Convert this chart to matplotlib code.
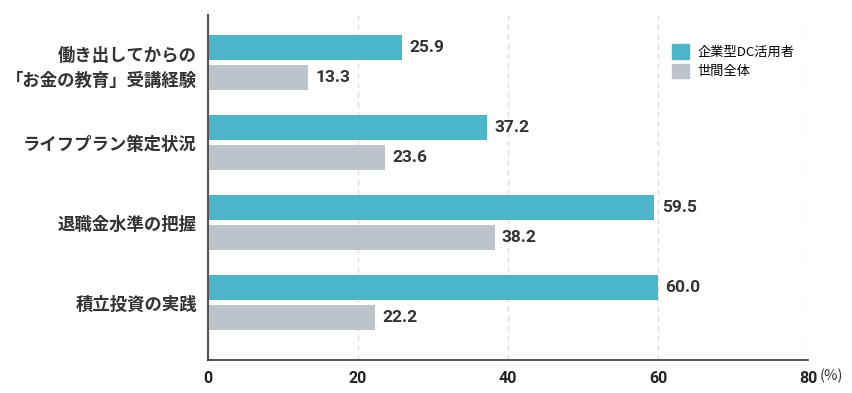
import matplotlib
matplotlib.use('Agg')
import matplotlib.pyplot as plt
from matplotlib.patches import Patch

plt.rcParams['font.family'] = ['Noto Sans CJK JP', 'DejaVu Sans']

# data
categories = ['働き出してからの\n「お金の教育」受講経験', 'ライフプラン策定状況', '退職金水準の把握', '積立投資の実践']
dc_users = [25.9, 37.2, 59.5, 60.0]
general = [13.3, 23.6, 38.2, 22.2]
series_names = ['企業型DC活用者', '世間全体']
xticks = [0, 20, 40, 60, 80]

teal = '#4cb5c9'
gray = '#bcc3cb'

fig = plt.figure(figsize=(8.52, 3.93), dpi=100)
ax = fig.add_axes([208 / 852, 33 / 393, 600 / 852, 345 / 393])

pos = list(range(len(categories)))
h = 0.3125
off = 0.1875
ax.barh([p - off for p in pos], dc_users, height=h, color=teal)
ax.barh([p + off for p in pos], general, height=h, color=gray)

for p, v in zip(pos, dc_users):
    ax.text(v + 1.0, p - off, f'{v:.1f}', va='center', ha='left', fontsize=12.5,
            color='#333333', fontweight='bold', family=['Roboto', 'DejaVu Sans'])
for p, v in zip(pos, general):
    ax.text(v + 1.0, p + off, f'{v:.1f}', va='center', ha='left', fontsize=12.5,
            color='#333333', fontweight='bold', family=['Roboto', 'DejaVu Sans'])

ax.set_xlim(0, 80)
ax.set_ylim(3 + 0.719, -0.594)
ax.set_yticks(pos)
ax.set_yticklabels(categories, fontsize=12.5, fontweight='bold', color='#333333',
                   linespacing=1.5)
ax.set_xticks(xticks)
ax.set_xticklabels([str(t) for t in xticks], fontsize=11.5, fontweight='bold', color='#222222',
                   family=['Roboto', 'DejaVu Sans'])
for lab in ax.get_yticklabels():
    lab.set_horizontalalignment('right')
ax.tick_params(axis='y', length=0, pad=8)
ax.tick_params(axis='x', length=0, pad=8)

ax.grid(axis='x', linestyle=(0, (4, 3)), color='#dddddd', linewidth=1)
ax.set_axisbelow(True)
for s in ['top', 'right']:
    ax.spines[s].set_visible(False)
ax.spines['left'].set_color('#555555')
ax.spines['left'].set_linewidth(1.5)
ax.spines['bottom'].set_color('#333333')
ax.spines['bottom'].set_linewidth(1.2)

# unit after the last tick label
ax.text(820 / 852, 17 / 393, '(%)', transform=fig.transFigure, va='center', ha='left',
        fontsize=10.5, color='#333333')

handles = [Patch(color=teal), Patch(color=gray)]
ax.legend(handles, series_names, loc='upper left', bbox_to_anchor=(0.765, 0.93),
          frameon=False, fontsize=9.5, handlelength=1.3, handleheight=1.3,
          handletextpad=0.6, labelspacing=0.35, borderaxespad=0)

fig.savefig('out.png', dpi=100)
